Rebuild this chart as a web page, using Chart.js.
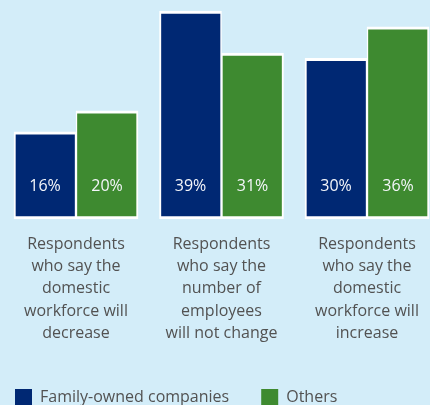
<!DOCTYPE html>
<html>
<head>
<meta charset="utf-8">
<script src="https://cdn.jsdelivr.net/npm/chart.js@4.4.1/dist/chart.umd.min.js"></script>
<style>
  html, body { margin: 0; padding: 0; background: #d3edf9; overflow: hidden; }
  #wrap { position: relative; width: 430px; height: 416px; }
</style>
</head>
<body>
<div id="wrap"><canvas id="chart"></canvas></div>
<script>
// Categories (multi-line axis labels)
const categories = [
  ["Respondents", "who say the", "domestic", "workforce will", "decrease"],
  ["Respondents", "who say the", "number of", "employees", "will not change"],
  ["Respondents", "who say the", "domestic", "workforce will", "increase"]
];
const seriesNames = ["Family-owned companies", "Others"];
const familyOwned = [16, 39, 30];
const others = [20, 31, 36];

const FONT = "'Open Sans', 'Noto Sans', sans-serif";
const WEIGHT = 400;
const TEXT = '#525252';
const BLUE = '#002873';
const GREEN = '#3e8a30';

// Percentage labels written inside each bar, near its foot
const valueLabels = {
  id: 'valueLabels',
  afterDatasetsDraw(chart) {
    const ctx = chart.ctx;
    ctx.save();
    ctx.font = WEIGHT + " 16px " + FONT;
    ctx.fillStyle = '#f4f6fa';
    ctx.textAlign = 'center';
    ctx.textBaseline = 'alphabetic';
    chart.data.datasets.forEach((ds, di) => {
      chart.getDatasetMeta(di).data.forEach((bar, i) => {
        ctx.fillText(ds.data[i] + '%', bar.x, bar.base - 28.5);
      });
    });
    ctx.restore();
  }
};

const AXIS_BASE = -0.55;

new Chart(document.getElementById('chart'), {
  type: 'bar',
  data: {
    labels: categories,
    datasets: [
      {
        label: seriesNames[0],
        data: familyOwned,
        backgroundColor: BLUE,
        borderColor: '#ffffff',
        borderWidth: { top: 3, bottom: 3, left: 2, right: 1.5 },
        borderSkipped: false,
        base: AXIS_BASE,
        barThickness: 62,
        clip: false
      },
      {
        label: seriesNames[1],
        data: others,
        backgroundColor: GREEN,
        borderColor: '#ffffff',
        borderWidth: { top: 3, bottom: 3, left: 1.5, right: 2 },
        borderSkipped: false,
        base: AXIS_BASE,
        barThickness: 62,
        clip: false
      }
    ]
  },
  options: {
    responsive: true,
    maintainAspectRatio: false,
    animation: false,
    layout: { padding: { left: -17, top: 5.7, right: 0, bottom: 0 } },
    scales: {
      x: {
        type: 'category',
        offset: false,
        grid: { display: false, drawTicks: false },
        border: { display: false },
        ticks: {
          color: TEXT,
          font: { family: FONT, size: 16, weight: WEIGHT, lineHeight: '22.3px' },
          padding: 14,
          maxRotation: 0,
          autoSkip: false
        },
        afterFit(scale) {
          scale.height = 138;
          // labels may overhang the plot edges; keep the plot width fixed
          scale.paddingLeft = 0;
          scale.paddingRight = 0;
        }
      },
      y: {
        min: AXIS_BASE,
        max: 40,
        grid: { display: false, drawTicks: false },
        border: { display: false },
        ticks: { display: false },
        afterFit(scale) { scale.width = 93; }
      },
      yRight: {
        type: 'linear',
        position: 'right',
        grid: { display: false, drawTicks: false },
        border: { display: false },
        ticks: { display: false },
        afterFit(scale) { scale.width = 63; }
      }
    },
    plugins: {
      tooltip: { enabled: false },
      legend: {
        position: 'bottom',
        align: 'start',
        labels: {
          boxWidth: 17,
          boxHeight: 17,
          padding: 32,
          color: TEXT,
          font: { family: FONT, size: 16, weight: WEIGHT },
          generateLabels(chart) {
            return Chart.defaults.plugins.legend.labels.generateLabels(chart)
              .map(item => Object.assign(item, { lineWidth: 0, strokeStyle: 'rgba(0,0,0,0)' }));
          }
        }
      }
    }
  },
  plugins: [valueLabels]
});
</script>
</body>
</html>
